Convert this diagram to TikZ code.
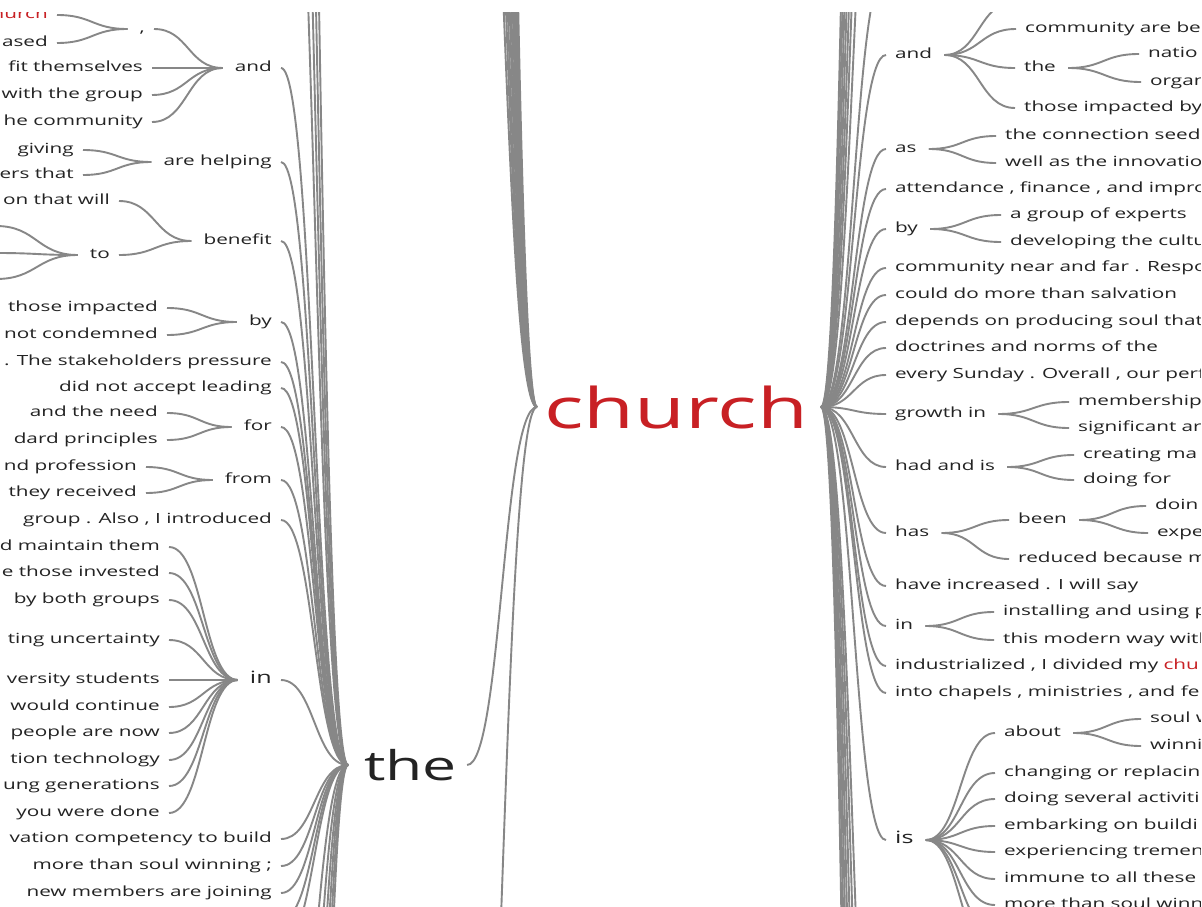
\documentclass[tikz,border=0pt]{standalone}
\usepackage{fontspec}
\setmainfont{Open Sans}[FakeStretch=1.48]
\usetikzlibrary{calc}
\definecolor{linkgray}{RGB}{135,135,135}
\definecolor{txt}{RGB}{35,35,35}
\definecolor{hl}{RGB}{200,32,36}
\tikzset{
  link/.style={draw=linkgray, line width=1.9pt},
  w/.style={inner xsep=0pt, inner ysep=0pt, text height=10pt, text depth=3pt,
            font=\fontsize{14}{16}\selectfont, text=txt},
  lw/.style={w, anchor=east},
  rw/.style={w, anchor=west},
  bigw/.style={inner sep=0pt, anchor=west, text=txt},
}
\newcommand\cv[2]{\draw[link] let \p1=(#1), \p2=(#2) in (\p1) .. controls ({(\x1+\x2)/2},\y1) and ({(\x1+\x2)/2},\y2) .. (\p2);}
% left tree: child, parent
\newcommand\lk[2]{\cv{[xshift=9pt]#1.east}{[xshift=-12pt]#2.west}}
% right tree: parent, child
\newcommand\rk[2]{\cv{[xshift=12pt]#1.east}{[xshift=-9pt]#2.west}}
\begin{document}
\begin{tikzpicture}[x=1pt,y=-1pt]
\useasboundingbox (0,0) rectangle (1202,907);
\fill[white] (0,0) rectangle (1202,907);
\begin{scope}
\clip (0,13) rectangle (1200,907);
% ---------- big nodes
\node[bigw, font=\fontsize{41}{41}\selectfont] (the) at (364,765) {the};
\node[bigw, text=hl, font=\fontsize{56}{56}\selectfont] (church) at (544,407) {church};
\coordinate (theL) at ([xshift=-16pt]the.west);
\coordinate (theR) at ([xshift=10pt]the.east);
\coordinate (chL) at ([xshift=-7pt]church.west);
\coordinate (chR) at ([xshift=13pt]church.east);
% ---------- left tree
\node[lw, text=hl] (lch) at (48,15) {church};
\node[lw] (lased) at (48,43) {ased};
\node[lw] (lcomma) at (145,29) {,};
\node[lw] (lfit) at (143,68) {fit themselves};
\node[lw] (lwith) at (143,95) {with the group};
\node[lw] (lhe) at (143,122) {he community};
\node[lw] (land) at (272,68) {and};
\node[lw] (lgiv) at (74,150) {giving};
\node[lw] (lers) at (74,175) {ers that};
\node[lw] (lare) at (272,162) {are helping};
\node[lw] (lon) at (110,201) {on that will};
\coordinate (lt1) at (-4,226);
\coordinate (lt2) at (-4,253);
\coordinate (lt3) at (-4,279);
\node[lw] (lto) at (110,255) {to};
\node[lw] (lben) at (272,241) {benefit};
\node[lw] (lthose) at (158,308) {those impacted};
\node[lw] (lnot) at (158,335) {not condemned};
\node[lw] (lby) at (272,322) {by};
\node[lw] (lstake) at (272,362) {. The stakeholders pressure};
\node[lw] (ldid) at (272,388) {did not accept leading};
\node[lw] (lneed) at (158,413) {and the need};
\node[lw] (ldard) at (158,440) {dard principles};
\node[lw] (lfor) at (272,427) {for};
\node[lw] (lprof) at (137,467) {nd profession};
\node[lw] (lrec) at (137,493) {they received};
\node[lw] (lfrom) at (272,480) {from};
\node[lw] (lgroup) at (272,520) {group . Also , I introduced};
\node[lw] (lmaint) at (160,547) {d maintain them};
\node[lw] (linv) at (160,573) {e those invested};
\node[lw] (lboth) at (160,600) {by both groups};
\node[lw] (lunc) at (160,640) {ting uncertainty};
\node[lw] (luni) at (160,680) {versity students};
\node[lw] (lcont) at (160,707) {would continue};
\node[lw] (lpeop) at (160,733) {people are now};
\node[lw] (ltech) at (160,760) {tion technology};
\node[lw] (lgen) at (160,786) {ung generations};
\node[lw] (ldone) at (160,813) {you were done};
\node[lw, font=\fontsize{17}{18}\selectfont] (lin) at (272,680) {in};
\node[lw] (lvat) at (272,839) {vation competency to build};
\node[lw] (lmore) at (272,866) {more than soul winning ;};
\node[lw] (lnew) at (272,893) {new members are joining};
\foreach \n/\y in {la1/-350,la2/-600,la3/-900,la4/-1300}{\coordinate (\n) at (281,\y);}
\foreach \n/\y in {lb1/920,lb2/947,lb3/1150,lb4/1350,lb5/1600,lb6/1900,lb7/2300,lb8/2800}{\coordinate (\n) at (281,\y);}
% left links
\lk{lch}{lcomma}\lk{lased}{lcomma}
\lk{lcomma}{land}\lk{lfit}{land}\lk{lwith}{land}\lk{lhe}{land}
\lk{lgiv}{lare}\lk{lers}{lare}
\cv{lt1}{[xshift=-12pt]lto.west}\cv{lt2}{[xshift=-12pt]lto.west}\cv{lt3}{[xshift=-12pt]lto.west}
\lk{lon}{lben}\lk{lto}{lben}
\lk{lthose}{lby}\lk{lnot}{lby}
\lk{lneed}{lfor}\lk{ldard}{lfor}
\lk{lprof}{lfrom}\lk{lrec}{lfrom}
\foreach \c in {lmaint,linv,lboth,lunc,luni,lcont,lpeop,ltech,lgen,ldone}{\lk{\c}{lin}}
\foreach \c in {land,lare,lben,lby,lstake,ldid,lfor,lfrom,lgroup,lin,lvat,lmore,lnew}{\cv{[xshift=9pt]\c.east}{theL}}
\foreach \c in {la1,la2,la3,la4,lb1,lb2,lb3,lb4,lb5,lb6,lb7,lb8}{\cv{\c}{theL}}
% the -> church and other church parents
\cv{theR}{chL}
\foreach \y in {-500,-650,-800,-1000,-1200,-1450,-1700,-2000,-2400,-2900}{\coordinate (ca) at (466,\y); \cv{ca}{chL}}
\coordinate (cb1) at (466,1400);\cv{cb1}{chL}
% ---------- right tree
\node[rw] (rand) at (895,55) {and};
\coordinate (rand0) at (1014,2);
\node[rw] (rcomm) at (1025,29) {community are be};
\node[rw] (rthe) at (1024,68) {the};
\node[rw] (rnat) at (1148,54) {natio};
\node[rw] (rorg) at (1150,82) {organ};
\node[rw] (rthose) at (1024,108) {those impacted by};
\node[rw] (ras) at (895,149) {as};
\node[rw] (rconn) at (1005,136) {the connection seed};
\node[rw] (rwell) at (1005,163) {well as the innovatio};
\node[rw] (ratt) at (895,189) {attendance , finance , and impro};
\node[rw] (rby) at (895,229) {by};
\node[rw] (rgrp) at (1010,215) {a group of experts};
\node[rw] (rdev) at (1010,242) {developing the cultu};
\node[rw] (rcom2) at (895,268) {community near and far . Respo};
\node[rw] (rcould) at (895,295) {could do more than salvation};
\node[rw] (rdep) at (895,322) {depends on producing soul that};
\node[rw] (rdoc) at (895,348) {doctrines and norms of the};
\node[rw] (revery) at (895,375) {every Sunday . Overall , our perf};
\node[rw] (rgrow) at (895,414) {growth in};
\node[rw] (rmem) at (1078,402) {membership};
\node[rw] (rsig) at (1078,428) {significant ar};
\node[rw] (rhad) at (895,467) {had and is};
\node[rw] (rcre) at (1083,455) {creating ma};
\node[rw] (rdofor) at (1083,480) {doing for};
\node[rw] (rhas) at (895,533) {has};
\node[rw] (rbeen) at (1018,520) {been};
\node[rw] (rdoin) at (1155,506) {doin};
\node[rw] (rexpe) at (1157,533) {expe};
\node[rw] (rred) at (1018,559) {reduced because m};
\node[rw] (rhave) at (895,586) {have increased . I will say};
\node[rw] (rin) at (895,626) {in};
\node[rw] (rinst) at (1003,612) {installing and using p};
\node[rw] (rthis) at (1003,640) {this modern way with};
\node[rw] (rind) at (895,666) {industrialized , I divided my \textcolor{hl}{chu}};
\node[rw] (rinto) at (895,693) {into chapels , ministries , and fel};
\node[rw, font=\fontsize{17}{18}\selectfont] (ris) at (895,840) {is};
\node[rw] (rabout) at (1004,733) {about};
\node[rw] (rsoul) at (1150,719) {soul w};
\node[rw] (rwin) at (1150,746) {winni};
\node[rw] (rchg) at (1004,773) {changing or replacin};
\node[rw] (rsev) at (1004,799) {doing several activiti};
\node[rw] (remb) at (1004,826) {embarking on buildi};
\node[rw] (rexp) at (1004,852) {experiencing tremen};
\node[rw] (rimm) at (1004,879) {immune to all these};
\node[rw] (rmore) at (1004,905) {more than soul winn};
\coordinate (ris1) at (995,932);
\coordinate (ris2) at (995,958);
% right links
\foreach \c in {rand,ras,ratt,rby,rcom2,rcould,rdep,rdoc,revery,rgrow,rhad,rhas,rhave,rin,rind,rinto,ris}{\cv{chR}{[xshift=-9pt]\c.west}}
\foreach \y in {-30,-300,-500,-700,-950,-1250,-1600,-2000}{\coordinate (ra) at (886,\y); \cv{chR}{ra}}
\foreach \y in {1300,1500,1750,2050,2400,2800,3300}{\coordinate (rb) at (886,\y); \cv{chR}{rb}}
\cv{[xshift=12pt]rand.east}{rand0}
\rk{rand}{rcomm}\rk{rand}{rthe}\rk{rand}{rthose}
\rk{rthe}{rnat}\rk{rthe}{rorg}
\rk{ras}{rconn}\rk{ras}{rwell}
\rk{rby}{rgrp}\rk{rby}{rdev}
\rk{rgrow}{rmem}\rk{rgrow}{rsig}
\rk{rhad}{rcre}\rk{rhad}{rdofor}
\rk{rhas}{rbeen}\rk{rhas}{rred}
\rk{rbeen}{rdoin}\rk{rbeen}{rexpe}
\rk{rin}{rinst}\rk{rin}{rthis}
\foreach \c in {rabout,rchg,rsev,remb,rexp,rimm,rmore}{\rk{ris}{\c}}
\cv{[xshift=12pt]ris.east}{ris1}\cv{[xshift=12pt]ris.east}{ris2}
\rk{rabout}{rsoul}\rk{rabout}{rwin}
\end{scope}
\end{tikzpicture}
\end{document}
